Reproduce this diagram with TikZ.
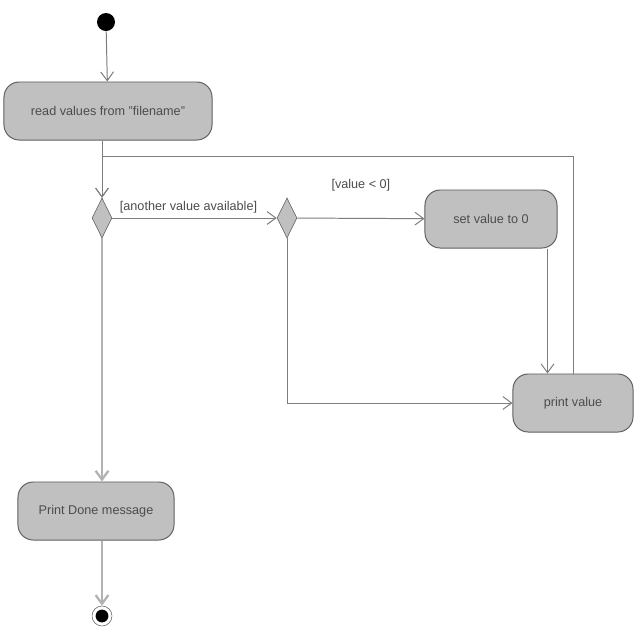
\documentclass[tikz,border=0pt]{standalone}
\usepackage{fontspec}
\setmainfont{Liberation Sans}
\usetikzlibrary{arrows.meta,shapes.geometric,positioning}

\definecolor{boxfill}{RGB}{192,192,192}
\definecolor{boxline}{RGB}{95,95,95}
\definecolor{flowline}{RGB}{125,125,125}

\begin{document}
\begin{tikzpicture}[x=0.025cm,y=-0.025cm,>={Straight Barb[length=2.2mm,width=3.2mm]},
  font=\fontsize{9}{11}\selectfont\color{black!70},
  action/.style={draw=boxline,fill=boxfill,rounded corners=0.38cm,minimum height=1.45cm,line width=0.7pt},
  decision/.style={diamond,draw=boxline,fill=boxfill,minimum width=0.5cm,minimum height=1cm,inner sep=0pt},
  flow/.style={->,draw=flowline,line width=0.7pt}]

  \useasboundingbox (0,0) rectangle (640,640);

  \node[circle,fill=black,minimum size=0.45cm,inner sep=0pt] (start) at (106,22) {};
  \node[action,minimum width=5.2cm] (read) at (108,111) {read values from "filename"};
  \node[decision] (dec1) at (102,218) {};
  \node[decision] (dec2) at (287,218) {};
  \node[action,minimum width=3.3cm] (setzero) at (491,219) {set value to 0};
  \node[action,minimum width=3cm] (print) at (573,403) {print value};
  \node[action,minimum width=3.9cm] (done) at (96,511) {Print Done message};
  \node[circle,draw=boxline,minimum size=0.5cm,inner sep=0pt,
    path picture={\fill[black] (path picture bounding box.center) circle (0.16cm);}] (stop) at (102,616) {};
  \coordinate (back) at (102,156);

  \path
    (start) edge[flow] (read)
    (read.south -| dec1) edge[flow] (dec1)
    (dec1) edge[flow] node[above,xshift=-0.15cm] {[another value available]} (dec2)
    (dec2) edge[flow] node[above=0.55cm] {[value < 0]} (setzero);

  \draw[flow] (print) |- (back) -- (dec1);
  \draw[flow] ([xshift=-0.25cm]setzero.south east) -- ([xshift=-0.25cm]setzero.south east |- print.north);
  \draw[flow] (dec2) |- (print);
  \draw[->,draw=black!30,line width=1.6pt] (dec1) -- (done.north -| dec1);
  \draw[->,draw=black!30,line width=1.6pt] (done.south -| stop) -- (stop);
\end{tikzpicture}
\end{document}
